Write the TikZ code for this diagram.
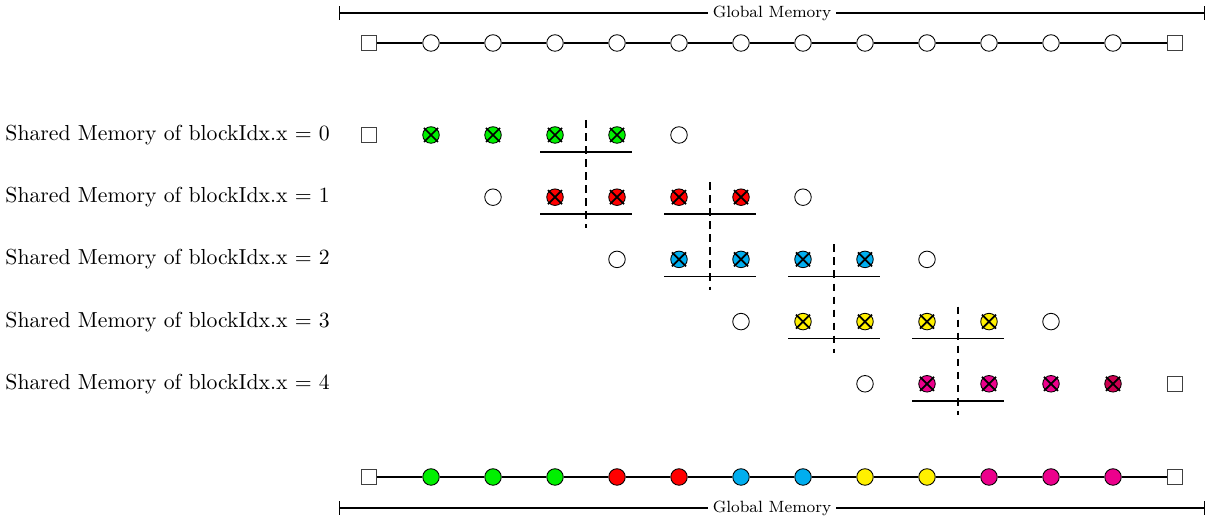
\documentclass[tikz,border=0pt]{standalone}
\usetikzlibrary{calc}
\definecolor{cgreen}{RGB}{0,240,0}
\definecolor{cred}{RGB}{255,0,0}
\definecolor{cblue}{RGB}{0,174,239}
\definecolor{cyellow}{RGB}{255,240,0}
\definecolor{cmag}{RGB}{236,0,140}
\definecolor{cdark}{RGB}{205,0,80}
\begin{document}
\begin{tikzpicture}[x=0.46pt,y=-0.46pt,
  mcirc/.style={circle,draw,thin,minimum size=7.6pt,inner sep=0pt,fill=white},
  msq/.style={rectangle,draw=black!75,thin,minimum size=7pt,inner sep=0pt,fill=white},
  chain/.style={semithick},
  uline/.style={thick},
  dline/.style={thick,dash pattern=on 3.5pt off 2.5pt},
  xline/.style={thick},
  lbl/.style={anchor=west,inner sep=0pt},
  gm/.style={font=\fontsize{7.5}{9}\selectfont,fill=white,inner sep=2.2pt}]
\useasboundingbox (0,0) rectangle (1211,518);

% top global memory
\coordinate (gtl) at (339,13);
\coordinate (gtr) at (1205,13);
\draw[semithick,|-|] (gtl) -- (gtr) node[midway,gm] (gtop) {Global Memory};
\node[msq] (t0) at (369,43) {};
\foreach \i in {1,...,12} \node[mcirc] (t\i) at ({369+62*\i},43) {};
\node[msq] (t13) at (1175,43) {};

% bottom global memory
\coordinate (gbl) at (339,508);
\coordinate (gbr) at (1205,508);
\draw[semithick,|-|] (gbl) -- (gbr) node[midway,gm] (gbot) {Global Memory};
\node[msq] (b0) at (369,477) {};
\foreach \i/\c in {1/cgreen,2/cgreen,3/cgreen,4/cred,5/cred,6/cblue,7/cblue,8/cyellow,9/cyellow,10/cmag,11/cmag,12/cmag}
  \node[mcirc,fill=\c] (b\i) at ({369+62*\i},477) {};
\node[msq] (b13) at (1175,477) {};

\foreach \i in {0,...,12}{
  \pgfmathtruncatemacro\j{\i+1}
  \draw[chain] (t\i) -- (t\j);
  \draw[chain] (b\i) -- (b\j);
}

% shared memory rows
\foreach \r/\c/\cl in {0/cgreen/cgreen,1/cred/cred,2/cblue/cblue,3/cyellow/cyellow,4/cmag/cdark}{
  \pgfmathsetmacro\y{135+62.2*\r}
  \node[lbl] (l\r) at (5,\y) {Shared Memory of blockIdx.x $=$ \r};
  \pgfmathtruncatemacro\ca{2*\r}
  \pgfmathtruncatemacro\cb{2*\r+5}
  \ifnum\r=0
    \node[msq] (r\r c\ca) at ({369+62*\ca},\y) {};
  \else
    \node[mcirc] (r\r c\ca) at ({369+62*\ca},\y) {};
  \fi
  \foreach \k in {1,...,4}{
    \pgfmathtruncatemacro\cc{2*\r+\k}
    \ifnum\k=4 \def\fc{\cl}\else\def\fc{\c}\fi
    \node[mcirc,fill=\fc] (r\r c\cc) at ({369+62*\cc},\y) {};
    \draw[xline] ($(r\r c\cc)+(-7,-7)$) -- ($(r\r c\cc)+(7,7)$);
    \draw[xline] ($(r\r c\cc)+(-7,7)$) -- ($(r\r c\cc)+(7,-7)$);
  }
  \ifnum\r=4
    \node[msq] (r\r c\cb) at ({369+62*\cb},\y) {};
  \else
    \node[mcirc] (r\r c\cb) at ({369+62*\cb},\y) {};
  \fi
}

% overlaps: underlines and dashed separators
\foreach \r in {0,...,3}{
  \pgfmathtruncatemacro\s{\r+1}
  \pgfmathtruncatemacro\ca{2*\r+3}
  \pgfmathtruncatemacro\cb{2*\r+4}
  \draw[uline] ($(r\r c\ca)+(-15,17)$) -- ($(r\r c\cb)+(15,17)$);
  \draw[uline] ($(r\s c\ca)+(-15,17)$) -- ($(r\s c\cb)+(15,17)$);
  \draw[dline] ($(r\r c\ca)!0.5!(r\r c\cb)+(0,-15)$) -- ($(r\s c\ca)!0.5!(r\s c\cb)+(0,31)$);
}
\end{tikzpicture}
\end{document}
